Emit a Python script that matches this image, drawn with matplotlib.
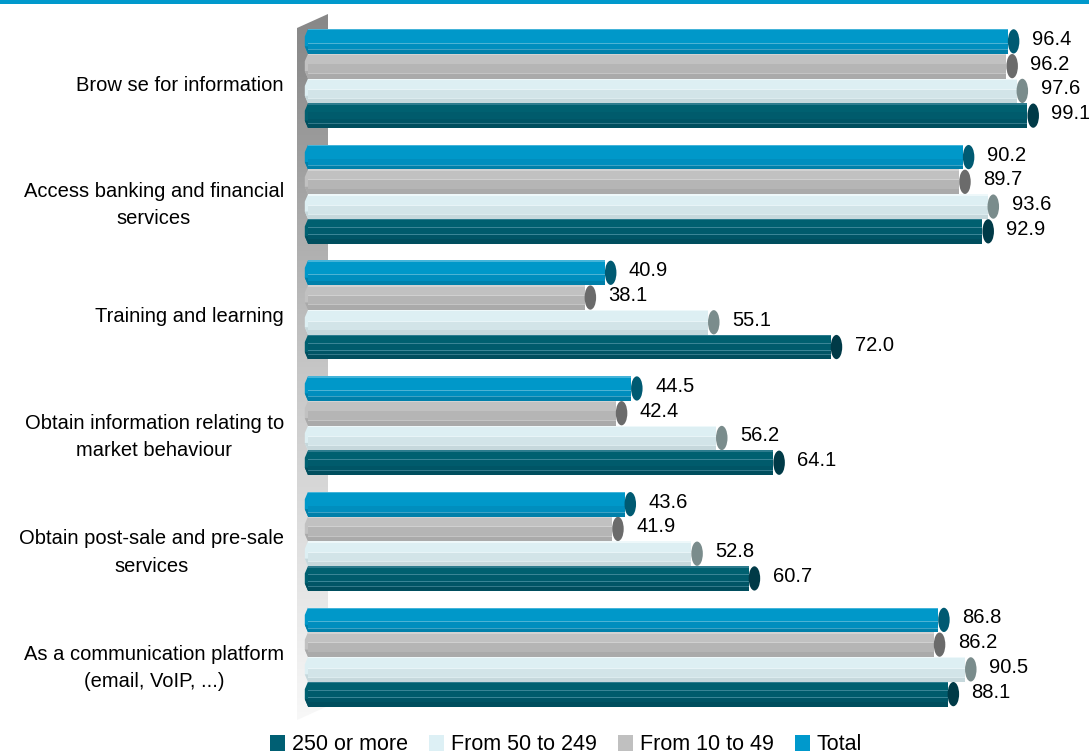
import matplotlib
matplotlib.use("Agg")
import matplotlib.pyplot as plt
import numpy as np
from matplotlib.patches import Ellipse, Polygon, Patch, Rectangle
from matplotlib.colors import LinearSegmentedColormap

plt.rcParams["font.family"] = ["Liberation Sans", "DejaVu Sans"]

# ---- data -------------------------------------------------------------
categories = [
    "Brow se for information",
    "Access banking and financial\nservices",
    "Training and learning",
    "Obtain information relating to\nmarket behaviour",
    "Obtain post-sale and pre-sale\nservices",
    "As a communication platform\n(email, VoIP, ...)",
]
series_names = ["Total", "From 10 to 49", "From 50 to 249", "250 or more"]
total = [96.4, 90.2, 40.9, 44.5, 43.6, 86.8]
size_10_49 = [96.2, 89.7, 38.1, 42.4, 41.9, 86.2]
size_50_249 = [97.6, 93.6, 55.1, 56.2, 52.8, 90.5]
size_250_plus = [99.1, 92.9, 72.0, 64.1, 60.7, 88.1]
series_values = [total, size_10_49, size_50_249, size_250_plus]
legend_order = ["250 or more", "From 50 to 249", "From 10 to 49", "Total"]

# ---- styling ----------------------------------------------------------
# horizontal shading bands (top fraction, bottom fraction, colour) per series
bands = {
    "Total": [(0.00, 0.06, "#45B4D9"), (0.06, 0.56, "#0098C9"), (0.56, 0.59, "#4DB3D4"),
              (0.59, 0.82, "#008EBE"), (0.82, 0.85, "#3EA2C4"), (0.85, 1.00, "#0080AA")],
    "From 10 to 49": [(0.00, 0.06, "#D2D2D2"), (0.06, 0.40, "#C1C1C1"), (0.40, 0.43, "#D0D0D0"),
                      (0.43, 0.78, "#B5B5B5"), (0.78, 0.81, "#C4C4C4"), (0.81, 1.00, "#AAAAAA")],
    "From 50 to 249": [(0.00, 0.06, "#EEF8FA"), (0.06, 0.44, "#DDEFF3"), (0.44, 0.47, "#E8F4F7"),
                       (0.47, 0.80, "#D2E4E8"), (0.80, 0.83, "#DCEBEE"), (0.83, 1.00, "#C6D8DC")],
    "250 or more": [(0.00, 0.06, "#2D7C8E"), (0.06, 0.34, "#006070"), (0.34, 0.37, "#3A8596"),
                    (0.37, 0.62, "#005B6C"), (0.62, 0.65, "#3A8596"), (0.65, 0.80, "#005566"),
                    (0.80, 0.83, "#33798A"), (0.83, 1.00, "#004E5E")],
}
cap_colors = {"Total": "#005A72", "From 10 to 49": "#6B6B6B",
              "From 50 to 249": "#7A8C8C", "250 or more": "#003A47"}
legend_colors = {"Total": "#0099CC", "From 10 to 49": "#C0C0C0",
                 "From 50 to 249": "#DDF0F5", "250 or more": "#005F73"}

W, H = 1089, 755
PX = 7.26          # pixels per percentage point
X0 = 308           # pixel column of the zero line
fig = plt.figure(figsize=(W / 100, H / 100), dpi=100)
ax = fig.add_axes([297 / W, 0, (W - 297) / W, 1])
xlim = ((297 - X0) / PX, (W - X0) / PX)
ax.patch.set_alpha(0)
for s in ax.spines.values():
    s.set_visible(False)
ax.set_xticks([])

# row geometry (pixel units along y)
bar_h = 24.75
group_step = 115.7
first_center = 78.5
n_groups = len(categories)
group_centers = first_center + group_step * np.arange(n_groups)

# gradient back wall
wx0, wx1 = (297 - X0) / PX, (328 - X0) / PX
wall = Polygon([(wx0, 28), (wx1, 14), (wx1, 706), (wx0, 720)], closed=True,
               facecolor="none", edgecolor="none", transform=ax.transData)
ax.add_patch(wall)
grad = np.linspace(0, 1, 256).reshape(-1, 1)
wall_cmap = LinearSegmentedColormap.from_list(
    "wall", [(0, "#888888"), (0.08, "#8E8E8E"), (0.5, "#C6C6C6"), (1.0, "#F8F8F8")])
img = ax.imshow(grad, cmap=wall_cmap, aspect="auto", extent=(wx0, wx1, 720, 14),
                interpolation="bilinear", zorder=0)
img.set_clip_path(wall)
ax.set_xlim(*xlim)
ax.set_ylim(H, 0)

cap_w = 11.5 / PX
tip = 3.2 / PX
for k, (name, vals) in enumerate(zip(series_names, series_values)):
    vals = np.asarray(vals)
    ys = group_centers + (k - 1.5) * bar_h
    tops = ys - bar_h / 2
    for f0, f1, col in bands[name]:
        hh = (f1 - f0) * bar_h
        ax.barh(tops + (f0 + f1) / 2 * bar_h, vals, height=hh, left=0,
                color=col, edgecolor="none", zorder=2)
    main_col = bands[name][1][2]
    low_col = bands[name][-1][2]
    for v, y, t in zip(vals, ys, tops):
        # chamfered left end
        ax.add_patch(Polygon([(0, t), (-tip, t + bar_h * 0.3), (-tip, t + bar_h * 0.7), (0, t + bar_h)],
                             closed=True, facecolor=main_col, edgecolor="none", zorder=2))
        ax.add_patch(Polygon([(0, t + bar_h * 0.7), (-tip, t + bar_h * 0.7), (0, t + bar_h)],
                             closed=True, facecolor=low_col, edgecolor="none", zorder=2))
        # end cap
        ax.add_patch(Ellipse((v + cap_w / 2, y), cap_w, bar_h * 0.98,
                             facecolor=cap_colors[name], edgecolor="none", zorder=3))
        ax.text(v + 24 / PX, y - 2, f"{v:.1f}", ha="left", va="center",
                fontsize=14.5, color="#000000", zorder=4)

ax.set_yticks(group_centers + 5)
ax.set_yticklabels(categories, fontsize=14.5, multialignment="center", linespacing=1.55)
ax.tick_params(axis="y", length=0, pad=9.4)

# top rule
fig.add_artist(Rectangle((0, 1 - 3.5 / H), 1, 3.5 / H, transform=fig.transFigure,
                         facecolor="#0099CC", edgecolor="none"))

handles = [Patch(facecolor=legend_colors[n], edgecolor="none") for n in legend_order]
fig.legend(handles, legend_order, loc="center", bbox_to_anchor=(566 / W, 1 - 745 / H),
           ncol=4, frameon=False, fontsize=15.5, handlelength=0.7, handleheight=0.7,
           handletextpad=0.3, columnspacing=1.0, borderaxespad=0, borderpad=0)

fig.savefig("out.png", dpi=100)
